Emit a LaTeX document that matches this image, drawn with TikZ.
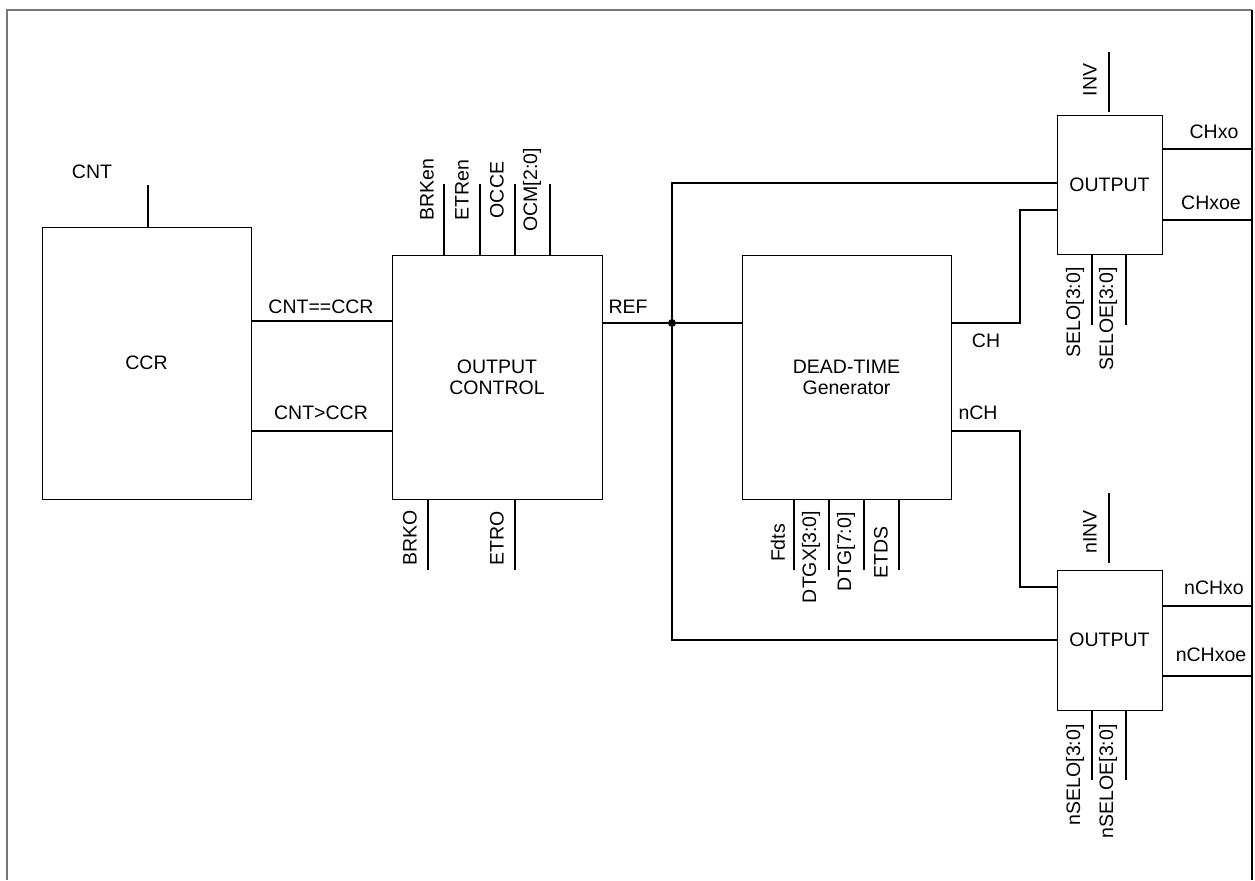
\documentclass[tikz,border=0pt]{standalone}
\usepackage{fontspec}
\setmainfont{Liberation Sans}
\begin{document}
\begin{tikzpicture}[x=0.5pt,y=-0.5pt,
  box/.style={draw,line width=0.5pt,rectangle,inner sep=0pt,align=center,font=\fontsize{9.75}{10.5}\selectfont},
  wire/.style={line width=0.9pt},
  pinline/.style={line width=0.9pt},
  lbl/.style={inner sep=0pt,font=\fontsize{9.75}{11}\selectfont},
  vlbl/.style={lbl,rotate=90},
  dot/.style={circle,fill,inner sep=0pt,minimum size=4pt}]
\useasboundingbox (0,0) rectangle (1255,880);
% frame
\draw[line width=1pt,gray!110!black,color={rgb,255:red,120;green,120;blue,120}] (7,880) -- (7,10) -- (1252,10);
\draw[line width=0.9pt] (1252,10) -- (1252,880);
% boxes
\node[box,minimum width=104.5pt,minimum height=136pt] (ccr) at (146.5,363) {CCR};
\node[box,minimum width=105pt,minimum height=122pt] (oc) at (497,377) {OUTPUT\\CONTROL};
\node[box,minimum width=104.5pt,minimum height=122pt] (dt) at (846.5,377) {DEAD-TIME\\Generator};
\node[box,minimum width=52.5pt,minimum height=69.5pt] (o1) at (1109.5,184.5) {OUTPUT};
\node[box,minimum width=52.5pt,minimum height=70pt] (o2) at (1109.5,640) {OUTPUT};
% CCR
\coordinate (cntp) at (148,185);
\draw[pinline] (cntp) -- (cntp |- ccr.north);
\node[lbl] (cntl) at (92,172) {CNT};
\draw[wire] (ccr.east |- 0,321) -- (oc.west |- 0,321);
\draw[wire] (ccr.east |- 0,431) -- (oc.west |- 0,431);
\node[lbl] (eql) at (321,307) {CNT==CCR};
\node[lbl] (gtl) at (321,413) {CNT>CCR};
% OC top pins
\coordinate (p1) at (444,184);
\coordinate (p2) at (480,184);
\coordinate (p3) at (515,184);
\coordinate (p4) at (550,184);
\foreach \p in {p1,p2,p3,p4} \draw[pinline] (\p) -- (\p |- oc.north);
\node[vlbl] (brken) at (427,190) {BRKen};
\node[vlbl] (etren) at (462,190) {ETRen};
\node[vlbl] (occe) at (497,190) {OCCE};
\node[vlbl] (ocm) at (532,190) {OCM[2:0]};
% OC bottom pins
\coordinate (q1) at (428,570);
\coordinate (q2) at (515,570);
\foreach \p in {q1,q2} \draw[pinline] (\p) -- (\p |- oc.south);
\node[vlbl] (brko) at (410,538) {BRKO};
\node[vlbl] (etro) at (497,538) {ETRO};
% REF
\node[dot] (j) at (672,323) {};
\draw[wire] (oc.east |- j) -- (j) -- (dt.west |- j);
\node[lbl] (refl) at (628,307) {REF};
\coordinate (jt) at (672,183);
\coordinate (jb) at (672,640);
\draw[wire] (o1.west |- jt) -- (jt) -- (j) -- (jb) -- (o2.west |- jb);
% DT bottom pins
\coordinate (r1) at (794,570);
\coordinate (r2) at (829,570);
\coordinate (r3) at (864,570);
\coordinate (r4) at (899,570);
\foreach \p in {r1,r2,r3,r4} \draw[pinline] (\p) -- (\p |- dt.south);
\node[vlbl] (fdts) at (778,543) {Fdts};
\node[vlbl] (dtgx) at (811,557) {DTGX[3:0]};
\node[vlbl] (dtg) at (846,552) {DTG[7:0]};
\node[vlbl] (etds) at (881,552) {ETDS};
% CH / nCH
\coordinate (ch1) at (1020,323);
\coordinate (ch2) at (1020,210);
\draw[wire] (dt.east |- ch1) -- (ch1) -- (ch2) -- (o1.west |- ch2);
\node[lbl] (chl) at (986,341) {CH};
\coordinate (nch1) at (1020,431);
\coordinate (nch2) at (1020,587);
\draw[wire] (dt.east |- nch1) -- (nch1) -- (nch2) -- (o2.west |- nch2);
\node[lbl] (nchl) at (978,413) {nCH};
% OUT1
\coordinate (inv) at (1109,52);
\draw[pinline] (inv) -- (1109,112);
\node[vlbl] (invl) at (1090,80) {INV};
\coordinate (s1) at (1092,325);
\coordinate (s2) at (1126,325);
\foreach \p in {s1,s2} \draw[pinline] (\p) -- (\p |- o1.south);
\node[vlbl,anchor=east] (selo) at (1075,267) {SELO[3:0]};
\node[vlbl,anchor=east] (seloe) at (1108,267) {SELOE[3:0]};
\coordinate (cx1) at (1252,149);
\coordinate (cx2) at (1252,220);
\draw[wire] (o1.east |- cx1) -- (cx1);
\draw[wire] (o1.east |- cx2) -- (cx2);
\node[lbl] (chxo) at (1214,132) {CHxo};
\node[lbl] (chxoe) at (1211,203) {CHxoe};
% OUT2
\coordinate (ninv) at (1109,493);
\draw[pinline] (ninv) -- (1109,563);
\node[vlbl] (ninvl) at (1090,532) {nINV};
\coordinate (t1) at (1092,780);
\coordinate (t2) at (1126,780);
\foreach \p in {t1,t2} \draw[pinline] (\p) -- (\p |- o2.south);
\node[vlbl,anchor=east] (nselo) at (1075,724) {nSELO[3:0]};
\node[vlbl,anchor=east] (nseloe) at (1108,724) {nSELOE[3:0]};
\coordinate (nx1) at (1252,606);
\coordinate (nx2) at (1252,676);
\draw[wire] (o2.east |- nx1) -- (nx1);
\draw[wire] (o2.east |- nx2) -- (nx2);
\node[lbl] (nchxo) at (1214,588) {nCHxo};
\node[lbl] (nchxoe) at (1211,655) {nCHxoe};
\end{tikzpicture}
\end{document}
